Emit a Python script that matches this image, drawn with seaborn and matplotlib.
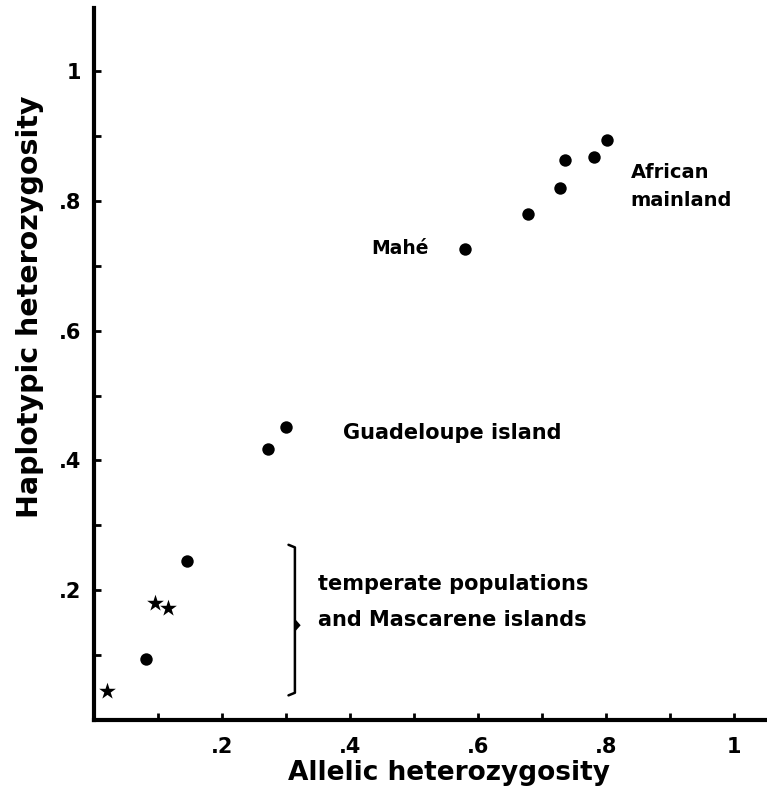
import matplotlib
matplotlib.use("Agg")
import matplotlib.pyplot as plt
import seaborn as sns
import pandas as pd

# populations shown as filled circles
dots_x = [0.081, 0.146, 0.272, 0.300, 0.580, 0.679, 0.729, 0.737, 0.781, 0.802]
dots_y = [0.094, 0.245, 0.418, 0.451, 0.725, 0.779, 0.819, 0.863, 0.868, 0.893]
# populations shown as stars
stars_x = [0.020, 0.096, 0.115]
stars_y = [0.044, 0.181, 0.173]

tick_vals = [0.1, 0.2, 0.3, 0.4, 0.5, 0.6, 0.7, 0.8, 0.9, 1.0]
tick_labels = ["", ".2", "", ".4", "", ".6", "", ".8", "", "1"]

sns.set_theme(style="white")
plt.rcParams['font.family'] = ['DejaVu Sans']
plt.rcParams['font.weight'] = 'bold'

fig = plt.figure(figsize=(7.67, 7.95), dpi=100)
ax = fig.add_axes([0.1226, 0.0943, 0.8774, 0.8956])

dots = pd.DataFrame({"allelic": dots_x, "haplotypic": dots_y})
stars = pd.DataFrame({"allelic": stars_x, "haplotypic": stars_y})

sns.scatterplot(data=dots, x="allelic", y="haplotypic", ax=ax, marker="o",
                s=80, color="black", edgecolor="black", linewidth=0, zorder=3)
sns.scatterplot(data=stars, x="allelic", y="haplotypic", ax=ax, marker="*",
                s=160, color="black", edgecolor="black", linewidth=0, zorder=3)

ax.set_xlim(0, 1.052)
ax.set_ylim(0, 1.097)

for side in ["top", "right"]:
    ax.spines[side].set_visible(False)
for side in ["left", "bottom"]:
    ax.spines[side].set_linewidth(3)
    ax.spines[side].set_color("black")

ax.set_xticks(tick_vals)
ax.set_xticklabels(tick_labels)
ax.set_yticks(tick_vals)
ax.set_yticklabels(tick_labels)
ax.tick_params(axis="both", direction="in", length=5, width=2, color="black",
               labelsize=15, labelcolor="black", bottom=True, left=True)
ax.tick_params(axis="x", pad=12)
ax.tick_params(axis="y", pad=9)
for lab in ax.get_xticklabels() + ax.get_yticklabels():
    lab.set_fontweight("bold")

ax.set_xlabel("Allelic heterozygosity", fontsize=19, fontweight="bold",
              color="black", va="center")
ax.xaxis.set_label_coords(0.527, -0.0744)
ax.set_ylabel("Haplotypic heterozygosity", fontsize=20.5, fontweight="bold",
              color="black", va="center", ha="center")
ax.yaxis.set_label_coords(-0.095, 0.580)

# group labels
lab_kw = dict(fontweight="bold", color="black", va="center")
ax.text(0.478, 0.727, "Mahé", fontsize=13.5, ha="center", **lab_kw)
ax.text(0.839, 0.843, "African", fontsize=14, ha="left", **lab_kw)
ax.text(0.839, 0.801, "mainland", fontsize=14, ha="left", **lab_kw)
ax.text(0.389, 0.442, "Guadeloupe island", fontsize=15, ha="left", **lab_kw)
ax.text(0.350, 0.2096, "temperate populations", fontsize=15, ha="left", **lab_kw)
ax.text(0.350, 0.154, "and Mascarene islands", fontsize=15, ha="left", **lab_kw)

# bracket around the temperate group
low = min(min(stars_y), min(dots_y[:2])) - 0.006
high = max(max(stars_y), max(dots_y[:2])) + 0.025
mid = 0.146
bx = 0.314
hook = 0.010
ax.plot([bx - hook, bx, bx, bx - hook], [high, high - 0.004, low + 0.004, low],
        color="black", lw=1.8, solid_capstyle="round", solid_joinstyle="round")
ax.fill([bx, bx + 0.009, bx], [mid + 0.010, mid, mid - 0.010], color="black", lw=0)

fig.savefig("out.png", dpi=100, facecolor="white")
